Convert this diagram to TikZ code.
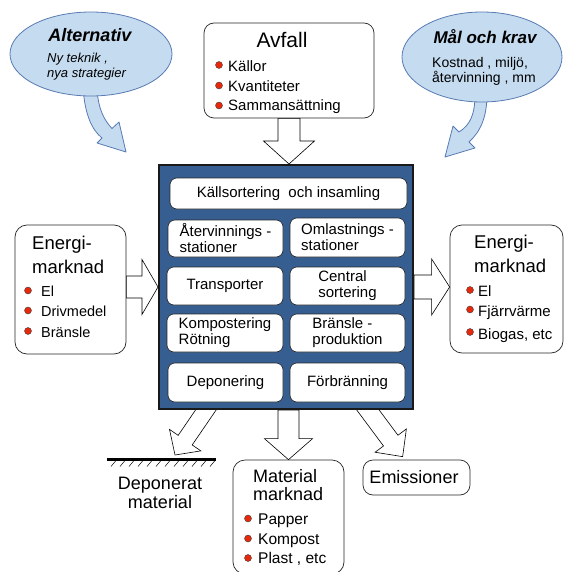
\documentclass[tikz,border=0pt]{standalone}
\usepackage{fontspec}
\setmainfont{Liberation Sans}
\usetikzlibrary{calc,shapes.geometric}
\pgfdeclarelayer{background}
\pgfsetlayers{background,main}
\definecolor{mainblue}{RGB}{54,94,145}
\definecolor{ellfill}{RGB}{197,219,240}
\definecolor{elldraw}{RGB}{88,122,178}
\definecolor{bulred}{RGB}{232,40,10}
\newcommand\fsz[2]{\fontsize{#1}{#2}\selectfont}
% #1 start, #2 tip, #3 half shaft, #4 half head, #5 head length
\newcommand\blockarrow[5]{%
  \coordinate (ba-base) at ($(#2)!#5!(#1)$);
  \draw[barrow] ($(#1)!#3!90:(#2)$) -- ($(ba-base)!#3!90:(#2)$) -- ($(ba-base)!#4!90:(#2)$) -- (#2)
    -- ($(ba-base)!#4!-90:(#2)$) -- ($(ba-base)!#3!-90:(#2)$) -- ($(#1)!#3!-90:(#2)$) -- cycle;
}
\begin{document}
\begin{tikzpicture}[x=1pt,y=-1pt,
  box/.style={draw=black!85, fill=white, rounded corners=10pt, line width=0.7pt, inner sep=0pt},
  inbox/.style={draw=black!85, fill=white, rounded corners=7pt, line width=0.6pt, inner sep=0pt,
    minimum width=115pt, minimum height=38pt, font=\fsz{15}{16}, align=left},
  mainbox/.style={draw=black!90, fill=mainblue, line width=2pt, inner sep=0pt},
  bubble/.style={ellipse, draw=elldraw, fill=ellfill, line width=0.8pt, inner sep=0pt},
  curvearrow/.style={draw=elldraw, fill=ellfill, line width=0.8pt, line join=round},
  barrow/.style={draw=black, fill=white, line width=0.6pt, line join=miter},
  txt/.style={inner sep=0pt},
  bul/.style={circle, draw=black!75, fill=bulred, line width=0.4pt, inner sep=0pt, minimum size=7pt}]
\useasboundingbox (0,0) rectangle (564,572);
\clip (0,0) rectangle (564,572);

% ---------- main block ----------
\node[mainbox, minimum width=254pt, minimum height=244pt] (main) at (286,287) {};
\node[inbox, minimum width=237pt, minimum height=31pt, align=center] (kall) at (288.5,193.5) {Källsortering\ \ och insamling};
\node[inbox, minimum height=37pt] (atv) at (225.5,238.5) {Återvinnings -\\stationer};
\node[inbox, minimum height=39pt] (oml) at (347.5,237.5) {Omlastnings -\\stationer};
\node[inbox, minimum width=116pt] (trans) at (225,286) {Transporter};
\node[inbox] (cent) at (347.5,286) {Central\\sortering};
\node[inbox, minimum width=116pt] (komp) at (225,333) {Kompostering\\Rötning};
\node[inbox] (bran) at (347.5,333) {Bränsle -\\produktion};
\node[inbox, minimum height=39pt] (dep) at (225.5,382.5) {Deponering};
\node[inbox, minimum height=39pt] (forb) at (347.5,382.5) {Förbränning};

% ---------- Avfall ----------
\node[box, minimum width=170pt, minimum height=95pt] (avfall) at (289,70.5) {};
\node[txt, anchor=base, font=\fsz{21}{24}] (avfallT) at (282,48) {Avfall};
\node[bul] (av1) at (219,65) {};
\node[bul] (av2) at (219,85.5) {};
\node[bul] (av3) at (219,105.5) {};
\node[txt, anchor=base west, font=\fsz{15}{18}] (avT1) at (228,72) {Källor};
\node[txt, anchor=base west, font=\fsz{15}{18}] (avT2) at (228,92) {Kvantiteter};
\node[txt, anchor=base west, font=\fsz{15}{18}] (avT3) at (228,111) {Sammansättning};

% ---------- bubbles ----------
\node[bubble, minimum width=162pt, minimum height=84pt] (alt) at (91,54) {};
\node[txt, anchor=base, font=\fsz{18}{20}\bfseries\itshape] (altT) at (90,42) {Alternativ};
\node[txt, anchor=base west, font=\fsz{13}{15}\itshape] (altT1) at (47,63) {Ny teknik ,};
\node[txt, anchor=base west, font=\fsz{13}{15}\itshape] (altT2) at (47,78) {nya strategier};

\node[bubble, minimum width=160pt, minimum height=90pt] (mal) at (482,57) {};
\node[txt, anchor=base, font=\fsz{17}{19}\bfseries\itshape] (malT) at (485,44) {Mål och krav};
\node[txt, anchor=base west, font=\fsz{14}{16}] (malT1) at (432,68) {Kostnad , miljö,};
\node[txt, anchor=base west, font=\fsz{14}{16}] (malT2) at (432,83) {återvinning , mm};

% ---------- left energy market ----------
\node[box, rounded corners=12pt, minimum width=111pt, minimum height=129pt] (eL) at (70.5,289.5) {};
\node[txt, anchor=base west, font=\fsz{18.5}{20}] (eLT1) at (32,249) {Energi-};
\node[txt, anchor=base west, font=\fsz{18.5}{20}] (eLT2) at (32,273) {marknad};
\node[bul] (eLb1) at (28,290.5) {};
\node[bul] (eLb2) at (28,310.5) {};
\node[bul] (eLb3) at (28,331) {};
\node[txt, anchor=base west, font=\fsz{14.5}{16}] (eLI1) at (41,296) {El};
\node[txt, anchor=base west, font=\fsz{14.5}{16}] (eLI2) at (41,316) {Drivmedel};
\node[txt, anchor=base west, font=\fsz{14.5}{16}] (eLI3) at (41,337) {Bränsle};

% ---------- right energy market ----------
\node[box, rounded corners=12pt, minimum width=113pt, minimum height=128pt] (eR) at (506.5,289) {};
\node[txt, anchor=base west, font=\fsz{18.5}{20}] (eRT1) at (474,248) {Energi-};
\node[txt, anchor=base west, font=\fsz{18.5}{20}] (eRT2) at (474,272) {marknad};
\node[bul] (eRb1) at (470,290) {};
\node[bul] (eRb2) at (470,309.5) {};
\node[bul] (eRb3) at (470,332) {};
\node[txt, anchor=base west, font=\fsz{15}{16}] (eRI1) at (478,296) {El};
\node[txt, anchor=base west, font=\fsz{15}{16}] (eRI2) at (478,316) {Fjärrvärme};
\node[txt, anchor=base west, font=\fsz{15}{16}] (eRI3) at (478,339) {Biogas, etc};

% ---------- bottom ----------
\node[box, rounded corners=12pt, minimum width=111pt, minimum height=114pt] (mat) at (288.5,517) {};
\node[txt, anchor=base west, font=\fsz{18}{20}] (matT1) at (253,482) {Material};
\node[txt, anchor=base west, font=\fsz{18}{20}] (matT2) at (253,500) {marknad};
\node[bul] (mb1) at (248,518.5) {};
\node[bul] (mb2) at (248,538.5) {};
\node[bul] (mb3) at (248,558) {};
\node[txt, anchor=base west, font=\fsz{15.5}{17}] (mI1) at (258,524) {Papper};
\node[txt, anchor=base west, font=\fsz{15.5}{17}] (mI2) at (258,544) {Kompost};
\node[txt, anchor=base west, font=\fsz{15.5}{17}] (mI3) at (258,563) {Plast , etc};

\node[box, minimum width=107pt, minimum height=35pt] (em) at (416.5,477.5) {};
\node[txt, anchor=base, font=\fsz{18}{20}] (emT) at (414,483) {Emissioner};

\coordinate (gl) at (107,459);
\coordinate (gr) at (216,459);
\draw[line width=3pt] (gl) -- (gr);
\foreach \i in {0,...,11} \draw[line width=0.5pt] ($(gl)+(\i*9+9,1.5)$) -- ++(-5,6);
\node[txt, anchor=base, font=\fsz{18}{20}] (depT1) at (160,489) {Deponerat};
\node[txt, anchor=base, font=\fsz{18}{20}] (depT2) at (160,508) {material};

% ---------- arrows (behind) ----------
\begin{pgfonlayer}{background}
  \coordinate (dlA) at ($(main.south west)+(54,-9)$);
  \coordinate (dlT) at ($(gl)!0.624!(gr)+(0,-4)$);
  \coordinate (drA) at ($(main.south west)+(204,-8)$);
  \coordinate (drT) at ($(em.north west)+(40,-3)$);
  \blockarrow{avfall.south}{avfall.south |- main.north}{11pt}{25.5pt}{23pt}
  \blockarrow{eL.east |- main.west}{main.west}{11pt}{27.5pt}{16pt}
  \blockarrow{main.east}{eR.west |- main.east}{12pt}{28pt}{18pt}
  \blockarrow{mat.north |- main.south}{mat.north}{10.5pt}{24pt}{21pt}
  \blockarrow{dlA}{dlT}{8.5pt}{19pt}{18pt}
  \blockarrow{drA}{drT}{9pt}{19.5pt}{20pt}
  % curved arrows from the bubbles
  \draw[curvearrow] (83,88) .. controls (85,115) and (92,130) .. (102,138) -- (97,143) -- (126,152)
     -- (119,122) -- (112,128.5) .. controls (105,121) and (98,110) .. (97,88) -- cycle;
  \draw[curvearrow] (475,94) .. controls (475,115) and (470,125) .. (459,132) -- (453,126) -- (445,157)
     -- (475,148) -- (469,142) .. controls (480,132) and (487,118) .. (487,94) -- cycle;
\end{pgfonlayer}
\end{tikzpicture}
\end{document}
